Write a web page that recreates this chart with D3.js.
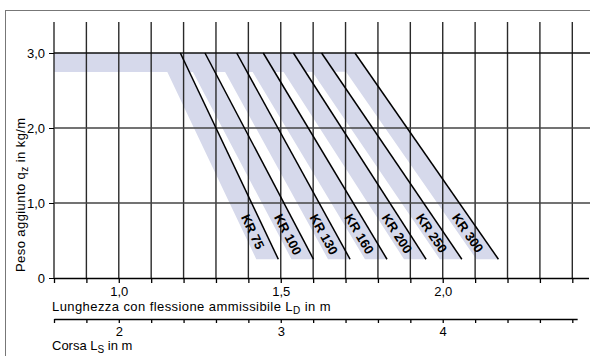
<!DOCTYPE html>
<html><head><meta charset="utf-8">
<script src="https://cdn.jsdelivr.net/npm/d3@7"></script>
<style>
body{margin:0;background:#fff;}
svg{display:block;font-family:"Liberation Sans",Arial,sans-serif;}
</style></head>
<body><svg id="c" width="590" height="356"></svg>
<script>
// ---- data ----
const categories = ["KR 75","KR 100","KR 130","KR 160","KR 200","KR 250","KR 300"];
const lineTopX    = [1.19, 1.266, 1.364, 1.446, 1.539, 1.626, 1.729]; // L_D where load starts to drop (q = 3.0)
const lineBottomX = [1.4925, 1.601, 1.714, 1.828, 1.9485, 2.059, 2.172]; // L_D at q = 0.25
const qMax = 3.0, qBandLow = 2.75, qMin = 0.25;
const bandWidth = 0.068;
const yTicks = [0, 1, 2, 3];
const yTickLabels = ["0", "1,0", "2,0", "3,0"];
const xTickLabels = {"1.0":"1,0", "1.5":"1,5", "2.0":"2,0"};
const corsaTickLabels = {"2.0":"2", "3.0":"3", "4.0":"4"};

// ---- layout ----
const svg = d3.select("#c");
const x = d3.scaleLinear().domain([0.8, 2.45]).range([54, 588.5]);
const y = d3.scaleLinear().domain([0, 3]).range([278, 53]);
const xs = d3.scaleLinear().domain([1.6, 4.9]).range([54, 588.5]);
const gridTopY = 22;

// frame
svg.append("rect").attr("x",5.5).attr("y",10.5).attr("width",700).attr("height",400)
  .attr("fill","none").attr("stroke","#777").attr("stroke-width",1);

const xGrid = d3.range(8, 25).map(d => d/10);

// bands
const lineAt = (i, q) => lineTopX[i] + (lineBottomX[i]-lineTopX[i]) * (qMax - q) / (qMax - qMin);
const bandG = svg.append("g");
categories.forEach((c, i) => {
  const pts = [
    [0.8, qMax], [lineTopX[i], qMax], [lineBottomX[i], qMin],
    [lineBottomX[i]-bandWidth, qMin], [lineAt(i, qBandLow)-bandWidth, qBandLow], [0.8, qBandLow]
  ];
  bandG.append("path")
    .attr("d", d3.line().x(p => x(p[0])).y(p => y(p[1]))(pts) + "Z")
    .attr("fill", "#d6d9eb");
});

// grid
const gridG = svg.append("g");
xGrid.forEach(v => {
  gridG.append("line").attr("x1", x(v)).attr("x2", x(v)).attr("y1", gridTopY).attr("y2", y(0))
    .attr("stroke", "#2a2a2a").attr("stroke-width", 1.4);
});
[1, 2, 3].forEach(v => {
  gridG.append("line").attr("x1", x(0.8)).attr("x2", 590).attr("y1", y(v)).attr("y2", y(v))
    .attr("stroke", v === 3 ? "#111" : "#444").attr("stroke-width", v === 3 ? 1.6 : 1.3);
});

// diagonal lines
categories.forEach((c, i) => {
  svg.append("line")
    .attr("x1", x(lineTopX[i])).attr("y1", y(qMax))
    .attr("x2", x(lineBottomX[i])).attr("y2", y(qMin))
    .attr("stroke", "#000").attr("stroke-width", 1.5);
});

// labels on bands
categories.forEach((c, i) => {
  const qLab = 0.84;
  const px = x(lineAt(i, qLab)) - 12.5, py = y(qLab);
  const ang = Math.atan2(y(qMin) - y(qMax), x(lineBottomX[i]) - x(lineTopX[i])) * 180 / Math.PI;
  svg.append("text").attr("transform", `translate(${px},${py}) rotate(${ang})`)
    .attr("dominant-baseline", "central").attr("text-anchor", "start")
    .attr("font-size", 13).attr("font-weight", "bold").attr("fill", "#000").text(c);
});

// y axis
const yAxis = d3.axisLeft(y).tickValues(yTicks).tickSize(5).tickSizeOuter(0)
  .tickFormat((d, i) => yTickLabels[i]);
const gy = svg.append("g").attr("transform", `translate(${x(0.8)},0)`).call(yAxis);
gy.select(".domain").remove();
gy.selectAll("text").attr("font-size", 13).attr("font-family", "Liberation Sans, Arial").attr("fill", "#000").attr("dx", -1);
gy.selectAll("line").attr("stroke", "#000");

// x axis
const xAxis = d3.axisBottom(x).tickValues(xGrid).tickSize(5).tickSizeOuter(0)
  .tickFormat(d => xTickLabels[d.toFixed(1)] || "");
const gx = svg.append("g").attr("transform", `translate(0,${y(0)})`).call(xAxis);
gx.selectAll("text").attr("font-size", 13).attr("font-family", "Liberation Sans, Arial").attr("fill", "#000").attr("dy", "0.78em");
gx.selectAll("line,path").attr("stroke", "#000").attr("stroke-width", 1.3);

// corsa axis
const corsaTicks = d3.range(16, 50, 2).map(d => d/10);
const xc = d3.scaleLinear().domain([1.6, 4.83]).range([xs(1.6), xs(4.83)]);
const cAxis = d3.axisBottom(xc).tickValues(corsaTicks).tickSize(4).tickSizeOuter(0)
  .tickFormat(d => corsaTickLabels[d.toFixed(1)] || "");
const gc = svg.append("g").attr("transform", `translate(0,319)`).call(cAxis);
gc.selectAll("text").attr("font-size", 13).attr("font-family", "Liberation Sans, Arial").attr("fill", "#000").attr("dy", "0.75em");
gc.selectAll("line,path").attr("stroke", "#000").attr("stroke-width", 1.3);

// axis titles
const t1 = svg.append("text").attr("x", 52).attr("y", 310.5).attr("font-size", 13).attr("letter-spacing", 0.42).attr("fill", "#000");
t1.append("tspan").text("Lunghezza con flessione ammissibile L");
t1.append("tspan").attr("font-size", 10).attr("dy", 3).text("D");
t1.append("tspan").attr("dy", -3).text(" in m");

const t2 = svg.append("text").attr("x", 52).attr("y", 350).attr("font-size", 13).attr("fill", "#000");
t2.append("tspan").text("Corsa L");
t2.append("tspan").attr("font-size", 10).attr("dy", 3).text("S");
t2.append("tspan").attr("dy", -3).text(" in m");

const t3 = svg.append("text").attr("transform", "translate(25,272) rotate(-90)").attr("font-size", 13).attr("letter-spacing", 0.42).attr("fill", "#000");
t3.append("tspan").text("Peso aggiunto q");
t3.append("tspan").attr("font-size", 10).attr("dy", 3).text("z");
t3.append("tspan").attr("dy", -3).text(" in kg/m");
</script></body></html>
